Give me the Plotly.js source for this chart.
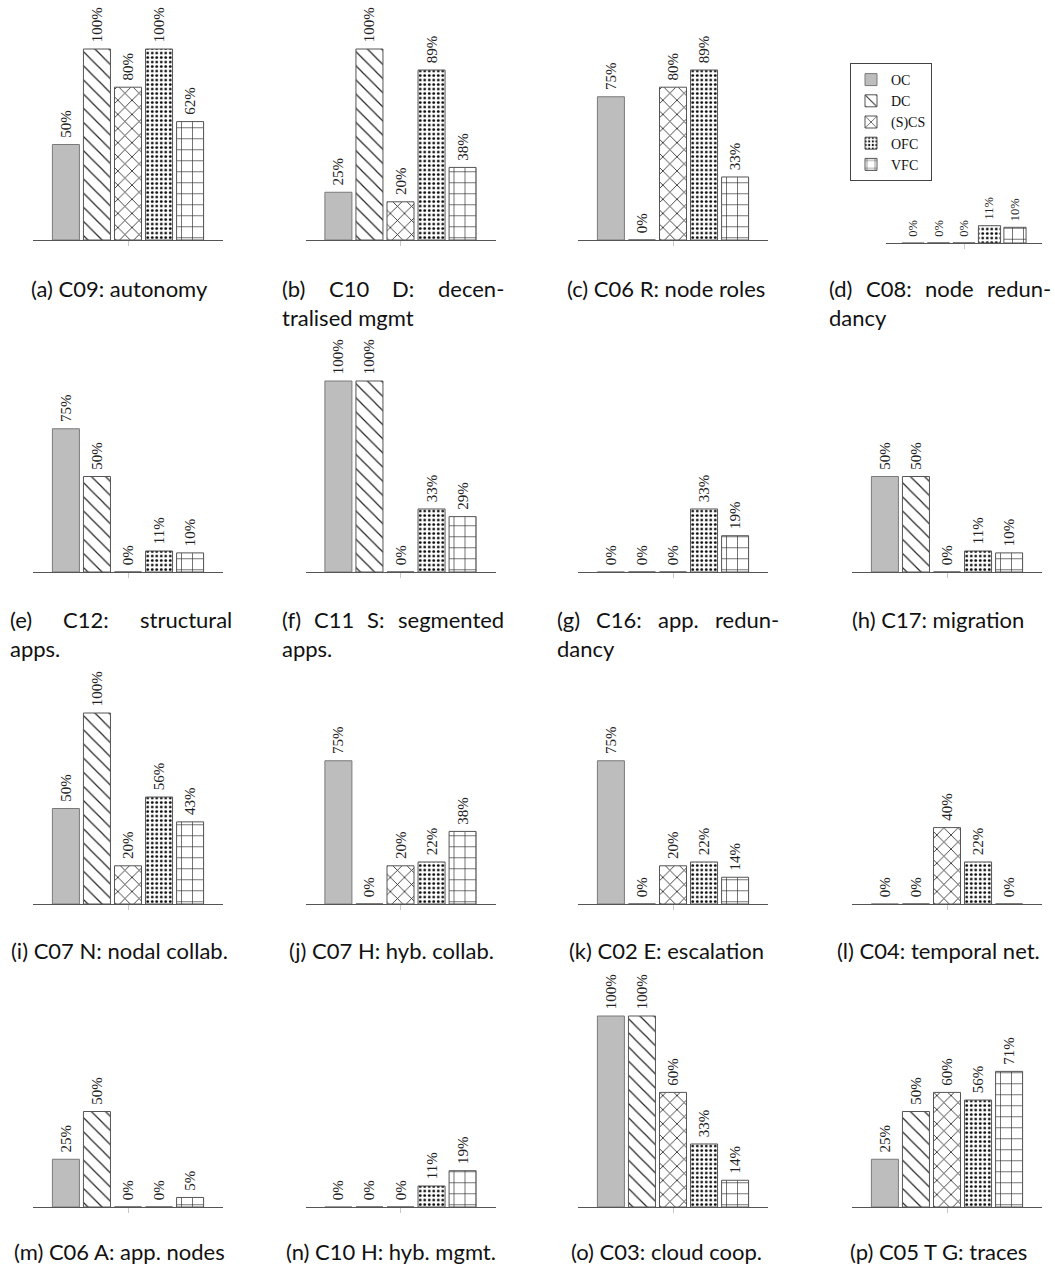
<!DOCTYPE html>
<html><head><meta charset="utf-8">
<script src="https://cdn.plot.ly/plotly-3.0.1.min.js"></script>
<style>body{margin:0;background:#fff}#chart{width:1055px;height:1266px}</style>
</head><body><div id="chart"></div>
<script>
// ---- data ----
const series = ['OC', 'DC', '(S)CS', 'OFC', 'VFC'];
const c09_autonomy      = [50, 100, 80, 100, 62];
const c10d_decentral    = [25, 100, 20, 89, 38];
const c06r_noderoles    = [75, 0, 80, 89, 33];
const c08_noderedund    = [0, 0, 0, 11, 10];
const c12_structural    = [75, 50, 0, 11, 10];
const c11s_segmented    = [100, 100, 0, 33, 29];
const c16_appredund     = [0, 0, 0, 33, 19];
const c17_migration     = [50, 50, 0, 11, 10];
const c07n_nodal        = [50, 100, 20, 56, 43];
const c07h_hybcollab    = [75, 0, 20, 22, 38];
const c02e_escalation   = [75, 0, 20, 22, 14];
const c04_temporal      = [0, 0, 40, 22, 0];
const c06a_appnodes     = [25, 50, 0, 0, 5];
const c10h_hybmgmt      = [0, 0, 0, 11, 19];
const c03_cloudcoop     = [100, 100, 60, 33, 14];
const c05tg_traces      = [25, 50, 60, 56, 71];

const panelValues = [c09_autonomy, c10d_decentral, c06r_noderoles, c08_noderedund,
  c12_structural, c11s_segmented, c16_appredund, c17_migration,
  c07n_nodal, c07h_hybcollab, c02e_escalation, c04_temporal,
  c06a_appnodes, c10h_hybmgmt, c03_cloudcoop, c05tg_traces];

const captions = [
  ['(a) C09: autonomy'], ['(b) C10 D: decen-', 'tralised mgmt'], ['(c) C06 R: node roles'], ['(d) C08: node redun-', 'dancy'],
  ['(e) C12: structural', 'apps.'], ['(f) C11 S: segmented', 'apps.'], ['(g) C16: app. redun-', 'dancy'], ['(h) C17: migration'],
  ['(i) C07 N: nodal collab.'], ['(j) C07 H: hyb. collab.'], ['(k) C02 E: escalation'], ['(l) C04: temporal net.'],
  ['(m) C06 A: app. nodes'], ['(n) C10 H: hyb. mgmt.'], ['(o) C03: cloud coop.'], ['(p) C05 T G: traces']
];

// ---- styling ----
const W = 1055, H = 1266;
const fills = [
  {color: '#bdbdbd', pattern: {shape: ''}, line: '#7a7a7a'},
  {color: '#ffffff', pattern: {shape: '\\', size: 10, solidity: 0.12, fgcolor: '#222', bgcolor: '#fff'}, line: '#555'},
  {color: '#ffffff', pattern: {shape: 'x', size: 10, solidity: 0.16, fgcolor: '#222', bgcolor: '#fff'}, line: '#555'},
  {color: '#ffffff', pattern: {shape: '.', size: 4.5, solidity: 0.3, fgcolor: '#111', bgcolor: '#fff'}, line: '#555'},
  {color: '#ffffff', pattern: {shape: '+', size: 11, solidity: 0.12, fgcolor: '#333', bgcolor: '#fff'}, line: '#555'}
];
const colCenters = [128, 400.5, 673, 947];
const rowBase = [240, 572, 904, 1207];
const capCenters = [119, 391, 666, 938];
const capHalf = 111;
const capRowY = [[288, 317], [619, 648], [950], [1251]];
const capFont = 'Lato';
const capSize = 22;

const traces = [];
const layout = {
  width: W, height: H, margin: {l: 0, r: 0, t: 0, b: 0},
  paper_bgcolor: '#fff', plot_bgcolor: 'rgba(0,0,0,0)',
  barmode: 'overlay', showlegend: true,
  legend: {x: 850 / W, y: (H - 63) / H, xanchor: 'left', yanchor: 'top',
    bordercolor: '#444', borderwidth: 1, bgcolor: '#fff',
    font: {family: 'Liberation Serif', size: 14, color: '#111'},
    tracegroupgap: 0, itemclick: false},
  annotations: []
};

panelValues.forEach((vals, k) => {
  const r = Math.floor(k / 4), c = k % 4;
  let cx = colCenters[c], half = 95, h100 = 191, base = rowBase[r], fs = 15;
  if (k === 3) { cx = 964; half = 78; h100 = 157; base = 243; fs = 12.5; }
  const sfx = k === 0 ? '' : String(k + 1);
  layout['xaxis' + sfx] = {
    domain: [(cx - half) / W, (cx + half) / W], range: [-1.06, 5.06],
    anchor: 'y' + sfx, showline: true, linecolor: '#555', linewidth: 1,
    showgrid: false, zeroline: false, tickvals: [2], ticktext: [''],
    ticks: 'outside', ticklen: 5, tickcolor: '#c8c8c8', tickwidth: 1, fixedrange: true
  };
  layout['yaxis' + sfx] = {
    domain: [(H - base) / H, (H - base + 1.25 * h100) / H], range: [0, 125],
    anchor: 'x' + sfx, visible: false, fixedrange: true
  };
  vals.forEach((v, s) => {
    const f = fills[s];
    traces.push({
      type: 'bar', x: [s], y: [v], width: 0.87, name: series[s],
      xaxis: 'x' + sfx, yaxis: 'y' + sfx,
      showlegend: k === 3, legendgroup: series[s],
      marker: {color: f.color, pattern: f.pattern, line: {color: f.line, width: 1}},
      text: ['\u00a0' + v + '%'], textposition: 'outside', textangle: -90,
      textfont: {family: 'Liberation Serif', size: fs, color: '#222'},
      constraintext: 'none', cliponaxis: false, hoverinfo: 'skip'
    });
  });
});

// ---- captions (justified where LaTeX broke the line) ----
const cv = document.createElement('canvas').getContext('2d');
cv.font = capSize + 'px ' + capFont;
captions.forEach((lines, k) => {
  const r = Math.floor(k / 4), c = k % 4;
  const left = capCenters[c] - capHalf, right = capCenters[c] + capHalf;
  lines.forEach((line, li) => {
    const y = (H - capRowY[r][li]) / H;
    const base = {xref: 'paper', yref: 'paper', yanchor: 'middle', showarrow: false,
      font: {family: capFont, size: capSize, color: '#111'}};
    if (lines.length > 1 && li === 0) {
      const words = line.split(' ');
      const ws = words.map(w => cv.measureText(w).width);
      const gap = (right - left - ws.reduce((a, b) => a + b, 0)) / (words.length - 1);
      let x = left;
      words.forEach((w, i) => {
        layout.annotations.push(Object.assign({}, base, {x: x / W, y: y, xanchor: 'left', text: w}));
        x += ws[i] + gap;
      });
    } else if (lines.length > 1) {
      layout.annotations.push(Object.assign({}, base, {x: left / W, y: y, xanchor: 'left', text: line}));
    } else {
      layout.annotations.push(Object.assign({}, base, {x: capCenters[c] / W, y: y, xanchor: 'center', text: line}));
    }
  });
});

Plotly.newPlot('chart', traces, layout, {staticPlot: true});
</script>
</body></html>
